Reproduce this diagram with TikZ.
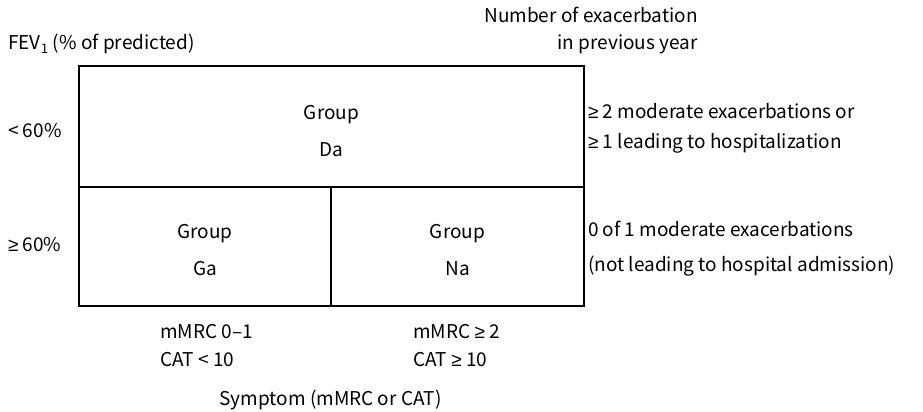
\documentclass[tikz,border=0pt]{standalone}
\usepackage{fontspec}
\setmainfont{Noto Sans CJK KR}
\newfontfamily\symfont{Liberation Sans}
\newcommand{\geqsym}{{\symfont ≥}}
\begin{document}
\begin{tikzpicture}[x=1pt,y=-1pt,
    cell/.style={draw, line width=1.5pt, inner sep=0pt},
    grp/.style={inner sep=0pt, align=center, font=\fontsize{19}{37}\selectfont},
    lbl/.style={inner sep=0pt, font=\fontsize{19}{29}\selectfont}]
    \useasboundingbox (0,0) rectangle (923,412);

    % Groups
    \node[cell, minimum width=505pt, minimum height=121pt] (da) at (331.5,126.5) {};
    \node[cell, minimum width=252pt, minimum height=119pt] (ga) at (205,246.5) {};
    \node[cell, minimum width=253pt, minimum height=119pt] (na) at (457.5,246.5) {};
    \node[grp] (daText) at ([shift={(0,5)}]da.center) {Group\\Da};
    \node[grp] (gaText) at ([shift={(0,4)}]ga.center) {Group\\Ga};
    \node[grp] (naText) at ([shift={(0,4)}]na.center) {Group\\Na};

    % Axis titles
    \node[lbl, anchor=west] (fev) at (8,44) {FEV\textsubscript{1} (\% of predicted)};
    \node[lbl, anchor=east, align=right, font=\fontsize{19}{27}\selectfont] (exac) at (698,31)
      {Number of exacerbation\\in previous year};
    \node[lbl] (symp) at (330.5,400) {Symptom (mMRC or CAT)};

    % Row labels
    \node[lbl, anchor=west] (low) at (8,131) {< 60\%};
    \node[lbl, anchor=west] (high) at (8,245) {\geqsym{} 60\%};
    \node[lbl, anchor=west, align=left, font=\fontsize{19}{30}\selectfont] (many) at (588,128)
      {\geqsym{} 2 moderate exacerbations or\\\geqsym{} 1 leading to hospitalization};
    \node[lbl, anchor=west, align=left, font=\fontsize{19}{35}\selectfont] (few) at (588,249)
      {0 of 1 moderate exacerbations\\(not leading to hospital admission)};

    % Column labels
    \node[lbl, anchor=west, align=left, font=\fontsize{19}{28}\selectfont] (mild) at (160,346)
      {mMRC 0–1\\CAT < 10};
    \node[lbl, anchor=west, align=left, font=\fontsize{19}{28}\selectfont] (severe) at (413,346)
      {mMRC \geqsym{} 2\\CAT \geqsym{} 10};
\end{tikzpicture}
\end{document}
